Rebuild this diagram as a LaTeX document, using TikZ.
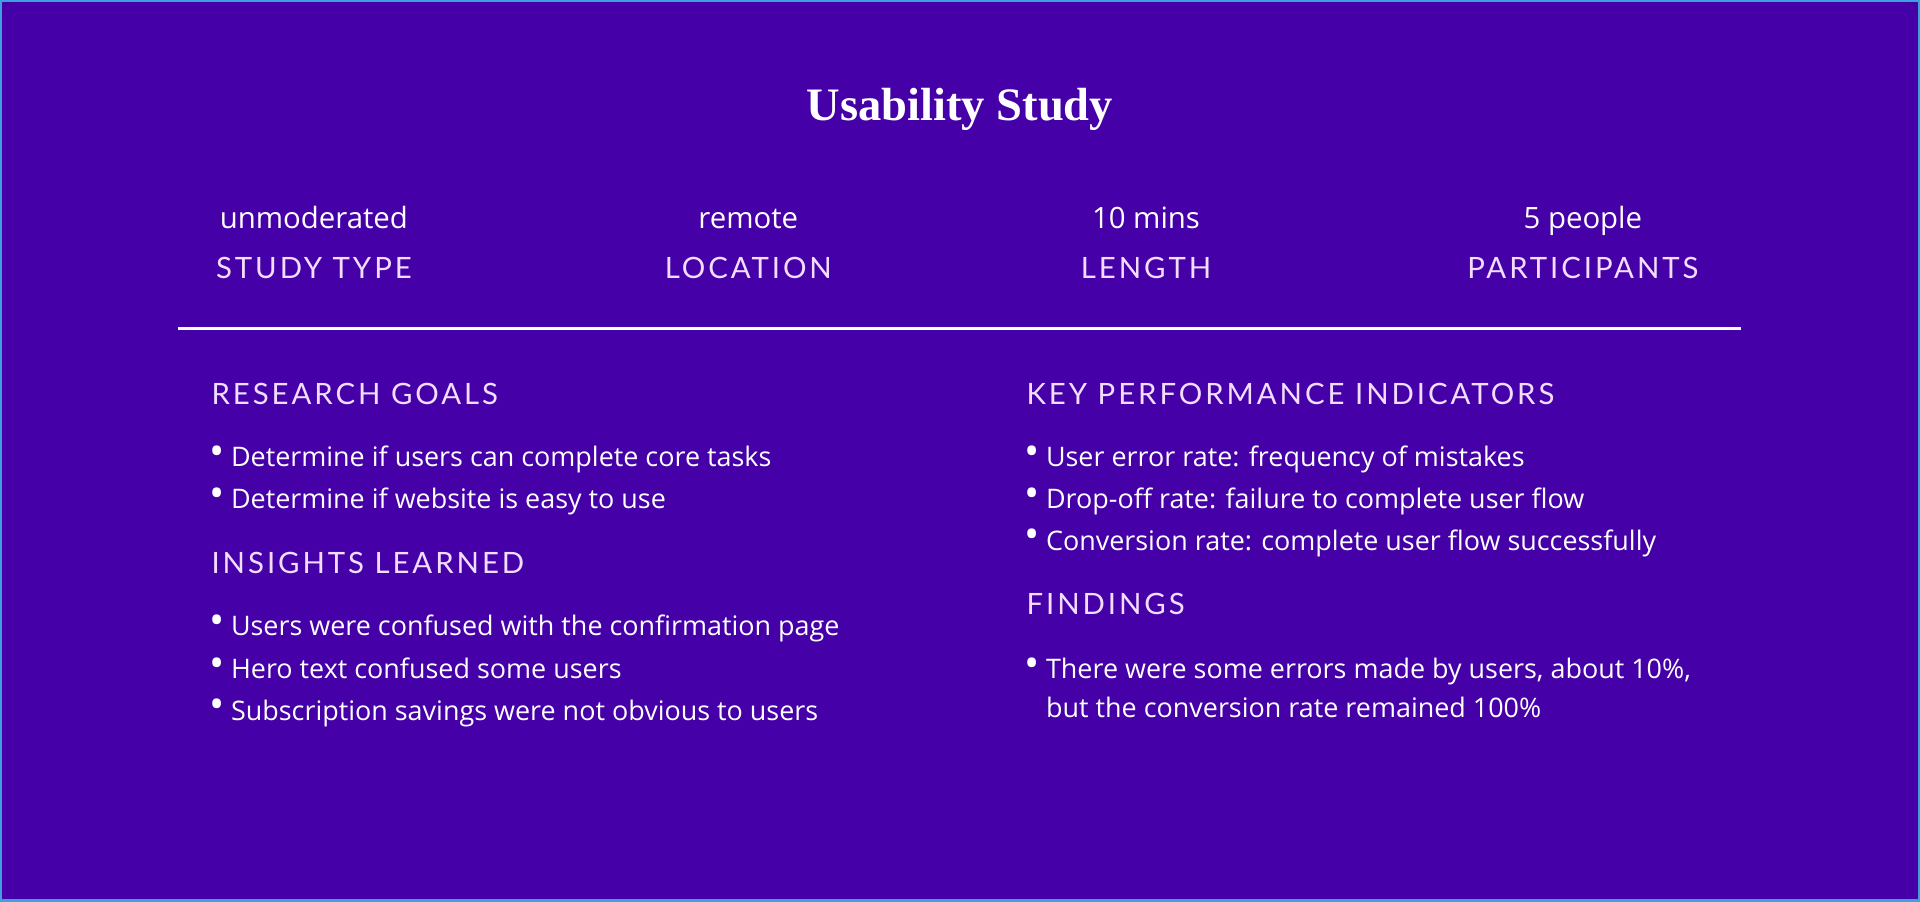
\documentclass[tikz,border=0pt]{standalone}
\usepackage{fontspec}
\setmainfont{Open Sans}
\newfontfamily\titlefont{Liberation Serif}
\newfontfamily\headfont[LetterSpace=10]{Lato}
\definecolor{bg}{HTML}{4500A8}
\definecolor{edge}{HTML}{3FA0E0}
\definecolor{head}{HTML}{F2DDFF}
\newcommand{\bul}{\raisebox{0.1ex}{\scalebox{1.5}{•}}\hspace{0.25em}}
\tikzset{
  val/.style={text=white,font=\fontsize{12}{14}\selectfont,anchor=base},
  lab/.style={text=head,font=\headfont\fontsize{12}{14}\selectfont,anchor=base},
  sec/.style={text=head,font=\headfont\fontsize{12}{14}\selectfont,anchor=base west,inner sep=0pt},
  item/.style={text=white,font=\fontsize{11}{17}\selectfont,anchor=base west,align=left,inner sep=0pt},
}
\begin{document}
\begin{tikzpicture}[x=0.5pt,y=-0.5pt]
\fill[bg] (0,0) rectangle (1568,736);
\draw[edge,line width=1pt] (0.5,0.5) rectangle (1567.5,735.5);
\node[text=white,font=\titlefont\bfseries\fontsize{19}{22}\selectfont,anchor=base] (title) at (784,98) {Usability Study};
\node[val] (v1) at (256,186) {unmoderated};
\node[val] (v2) at (611,186) {remote};
\node[val] (v3) at (936,186) {10 mins};
\node[val] (v4) at (1293,186) {5 people};
\node[lab] (l1) at (256,227) {STUDY TYPE};
\node[lab] (l2) at (611,227) {LOCATION};
\node[lab] (l3) at (936,227) {LENGTH};
\node[lab] (l4) at (1293,227) {PARTICIPANTS};
\draw[white,line width=1.5pt] (145,268) -- (1422,268);
\node[sec] (rg) at (172,330) {RESEARCH GOALS};
\node[item] (rg1) at (170,381) {\bul Determine if users can complete core tasks};
\node[item] (rg2) at (170,415) {\bul Determine if website is easy to use};
\node[sec] (il) at (172,468) {INSIGHTS LEARNED};
\node[item] (il1) at (170,519) {\bul Users were confused with the confirmation page};
\node[item] (il2) at (170,554) {\bul Hero text confused some users};
\node[item] (il3) at (170,588) {\bul Subscription savings were not obvious to users};
\node[sec] (kpi) at (838,330) {KEY PERFORMANCE INDICATORS};
\node[item] (k1) at (836,381) {\bul User error rate: frequency of mistakes};
\node[item] (k2) at (836,415) {\bul Drop-off rate: failure to complete user flow};
\node[item] (k3) at (836,449) {\bul Conversion rate: complete user flow successfully};
\node[sec] (fd) at (838,502) {FINDINGS};
\node[item] (f1) at (836,554) {\bul There were some errors made by users, about 10\%,};
\node[item] (f2) at (854,586) {but the conversion rate remained 100\%};
\end{tikzpicture}
\end{document}
